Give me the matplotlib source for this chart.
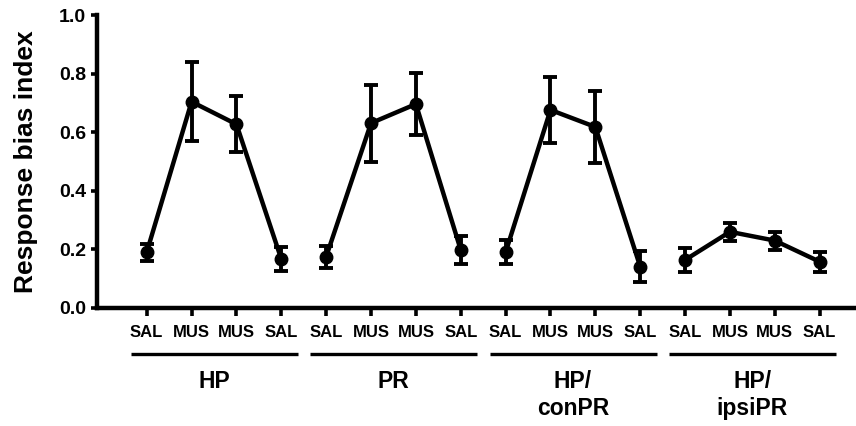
import matplotlib
matplotlib.use("Agg")
import matplotlib.pyplot as plt
import matplotlib.transforms as mtransforms

plt.rcParams['font.family'] = ['Liberation Sans', 'DejaVu Sans']
plt.rcParams['font.weight'] = 'bold'

# ---- data ----
conditions = ["SAL", "MUS", "MUS", "SAL"]
groups = ["HP", "PR", "HP/\nconPR", "HP/\nipsiPR"]
means = [
    [0.19, 0.704, 0.627, 0.167],
    [0.175, 0.631, 0.696, 0.198],
    [0.19, 0.676, 0.618, 0.141],
    [0.164, 0.260, 0.230, 0.158],
]
errors = [
    [0.030, 0.134, 0.095, 0.041],
    [0.037, 0.131, 0.107, 0.047],
    [0.041, 0.112, 0.122, 0.052],
    [0.040, 0.030, 0.031, 0.034],
]
yticks = [0.0, 0.2, 0.4, 0.6, 0.8, 1.0]

fig = plt.figure(figsize=(8.56, 4.26), dpi=100)
ax = fig.add_axes([97/856, 1-308/426, 1-97/856, (308-15)/426])

n = len(conditions)
all_x = []
all_labels = []
for g, (m, e) in enumerate(zip(means, errors)):
    xs = [g*n + i for i in range(n)]
    all_x += xs
    all_labels += conditions
    ax.errorbar(xs, m, yerr=e, color='black', lw=3.2, marker='o', ms=9,
                elinewidth=2.8, capsize=4.8, capthick=2.8, zorder=3,
                clip_on=False)

ax.set_xlim(-1.108, 15.81)
ax.set_ylim(0, 1.0)
ax.set_yticks(yticks)
ax.set_yticklabels([f"{t:.1f}" for t in yticks], fontsize=14, fontweight='bold')
ax.set_xticks(all_x)
ax.set_xticklabels(all_labels, fontsize=12, fontweight='bold')
ax.tick_params(axis='x', length=6, width=2.6, pad=6, color='black')
ax.tick_params(axis='y', length=4, width=2.6, pad=4, color='black')

for s in ['top', 'right']:
    ax.spines[s].set_visible(False)
for s in ['left', 'bottom']:
    ax.spines[s].set_linewidth(3.2)

ax.set_ylabel("Response bias index", fontsize=19, fontweight='bold')
ax.yaxis.set_label_coords(-0.078, 0.5)

trans = mtransforms.blended_transform_factory(ax.transData, ax.transAxes)
line_y = (308-354)/293
for g, name in enumerate(groups):
    x0 = g*n - 0.35
    x1 = g*n + (n-1) + 0.37
    ax.plot([x0, x1], [line_y, line_y], color='black', lw=2.4, transform=trans,
            clip_on=False, solid_capstyle='butt')
    xc = g*n + (n-1)/2
    for k, line in enumerate(name.split("\n")):
        base_px = 387.7 + k*27.5
        ax.text(xc, (308-base_px)/293, line, transform=trans, ha='center',
                va='baseline', fontsize=16.5, fontweight='bold')

fig.savefig("out.png", dpi=100)
